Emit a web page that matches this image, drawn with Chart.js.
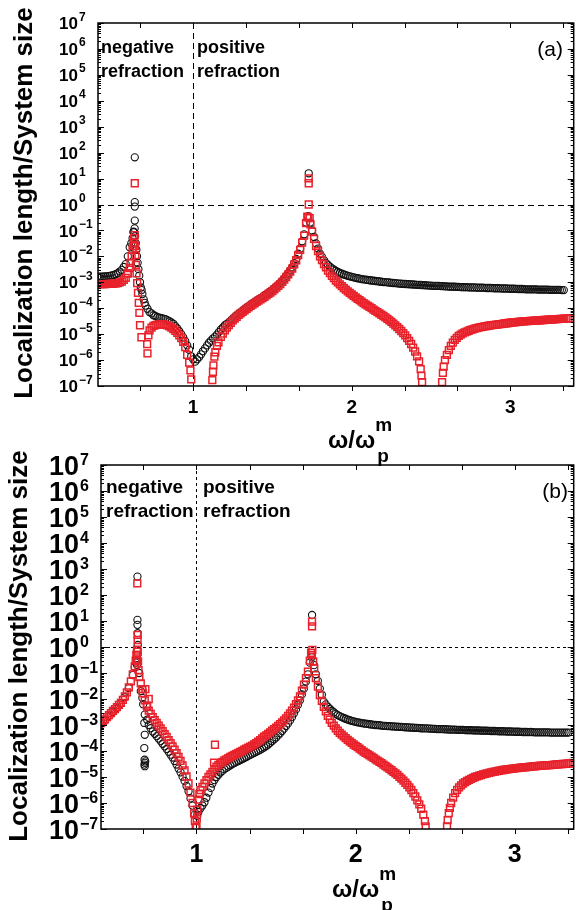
<!DOCTYPE html>
<html>
<head>
<meta charset="utf-8">
<script src="https://cdn.jsdelivr.net/npm/chart.js@4.4.1/dist/chart.umd.min.js"></script>
<style>
  html, body { margin: 0; padding: 0; background: #fff; }
  #wrap { position: relative; width: 580px; height: 910px; overflow: hidden; }
  canvas { position: absolute; left: 0; }
  #chartA { top: 0; }
  #chartB { top: 430px; }
</style>
</head>
<body>
<div id="wrap">
  <canvas id="chartA" width="580" height="475"></canvas>
  <canvas id="chartB" width="580" height="480"></canvas>
</div>
<script>
const FONT = "'Liberation Sans', Arial, Helvetica, sans-serif";
const RED = '#e8212b';

// tick labels
const xTickValues = [1, 2, 3];
const xTickLabels = ['1', '2', '3'];
const yExponents = [7, 6, 5, 4, 3, 2, 1, 0, -1, -2, -3, -4, -5, -6, -7];

// frequency grid (omega / omega_p^m), shared by both panels
const freqGrid = [
  0.400, 0.425, 0.450, 0.475, 0.500, 0.525, 0.550, 0.575,
  0.600, 0.625, 0.650, 0.675, 0.700, 0.725, 0.750, 0.775,
  0.800, 0.825, 0.850, 0.875, 0.900, 0.925, 0.950, 0.975,
  1.000, 1.025, 1.050, 1.075, 1.100, 1.125, 1.150, 1.175,
  1.200, 1.225, 1.250, 1.275, 1.300, 1.325, 1.350, 1.375,
  1.400, 1.425, 1.450, 1.475, 1.500, 1.525, 1.550, 1.575,
  1.600, 1.625, 1.650, 1.675, 1.700, 1.725, 1.750, 1.775,
  1.800, 1.825, 1.850, 1.875, 1.900, 1.925, 1.950, 1.975,
  2.000, 2.025, 2.050, 2.075, 2.100, 2.125, 2.150, 2.175,
  2.200, 2.225, 2.250, 2.275, 2.300, 2.325, 2.350, 2.375,
  2.400, 2.425, 2.450, 2.475, 2.500, 2.525, 2.550, 2.575,
  2.600, 2.625, 2.650, 2.675, 2.700, 2.725, 2.750, 2.775,
  2.800, 2.825, 2.850, 2.875, 2.900, 2.925, 2.950, 2.975,
  3.000, 3.025, 3.050, 3.075, 3.100, 3.125, 3.150, 3.175,
  3.200, 3.225, 3.250, 3.275, 3.300, 3.325, 3.350, 3.375,
  3.400
];
// in-between frequencies, the samples are denser than the main grid
const freqMid = [
  0.4125, 0.4375, 0.4625, 0.4875, 0.5125, 0.5375, 0.5625, 0.5875,
  0.6125, 0.6375, 0.6625, 0.6875, 0.7125, 0.7375, 0.7625, 0.7875,
  0.8125, 0.8375, 0.8625, 0.8875, 0.9125, 0.9375, 0.9625, 0.9875,
  1.0125, 1.0375, 1.0625, 1.0875, 1.1125, 1.1375, 1.1625, 1.1875,
  1.2125, 1.2375, 1.2625, 1.2875, 1.3125, 1.3375, 1.3625, 1.3875,
  1.4125, 1.4375, 1.4625, 1.4875, 1.5125, 1.5375, 1.5625, 1.5875,
  1.6125, 1.6375, 1.6625, 1.6875, 1.7125, 1.7375, 1.7625, 1.7875,
  1.8125, 1.8375, 1.8625, 1.8875, 1.9125, 1.9375, 1.9625, 1.9875,
  2.0125, 2.0375, 2.0625, 2.0875, 2.1125, 2.1375, 2.1625, 2.1875,
  2.2125, 2.2375, 2.2625, 2.2875, 2.3125, 2.3375, 2.3625, 2.3875,
  2.4125, 2.4375, 2.4625, 2.4875, 2.5125, 2.5375, 2.5625, 2.5875,
  2.6125, 2.6375, 2.6625, 2.6875, 2.7125, 2.7375, 2.7625, 2.7875,
  2.8125, 2.8375, 2.8625, 2.8875, 2.9125, 2.9375, 2.9625, 2.9875,
  3.0125, 3.0375, 3.0625, 3.0875, 3.1125, 3.1375, 3.1625, 3.1875,
  3.2125, 3.2375, 3.2625, 3.2875, 3.3125, 3.3375, 3.3625, 3.3875
];

// panel (a): black circles
const blackA = [
  1.66e-3, 1.66e-3, 1.70e-3, 1.78e-3, 1.91e-3, 2.24e-3, 3.02e-3, 5.01e-3,
  2.24e-2, 8.91e-2, 5.62e-3, 5.01e-4, 1.26e-4, 7.08e-5, 5.37e-5, 4.57e-5,
  4.17e-5, 3.80e-5, 3.16e-5, 2.51e-5, 1.66e-5, 1.00e-5, 5.37e-6, 2.51e-6,
  1.07e-6, 1.07e-6, 1.66e-6, 2.82e-6, 4.68e-6, 6.76e-6, 9.55e-6, 1.51e-5,
  2.24e-5, 2.82e-5, 3.98e-5, 5.37e-5, 7.08e-5, 9.33e-5, 1.20e-4, 1.55e-4,
  1.95e-4, 2.45e-4, 3.09e-4, 3.98e-4, 5.13e-4, 6.92e-4, 9.55e-4, 1.41e-3,
  2.24e-3, 3.80e-3, 7.94e-3, 2.00e-2, 7.08e-2, 0.355, 0.100, 3.16e-2,
  1.26e-2, 7.08e-3, 4.68e-3, 3.47e-3, 2.75e-3, 2.29e-3, 2.00e-3, 1.78e-3,
  1.62e-3, 1.48e-3, 1.38e-3, 1.29e-3, 1.23e-3, 1.17e-3, 1.12e-3, 1.07e-3,
  1.02e-3, 1.00e-3, 9.55e-4, 9.33e-4, 8.91e-4, 8.71e-4, 8.51e-4, 8.32e-4,
  8.13e-4, 7.94e-4, 7.76e-4, 7.59e-4, 7.41e-4, 7.24e-4, 7.24e-4, 7.08e-4,
  6.92e-4, 6.76e-4, 6.76e-4, 6.61e-4, 6.46e-4, 6.46e-4, 6.31e-4, 6.31e-4,
  6.17e-4, 6.17e-4, 6.03e-4, 6.03e-4, 5.89e-4, 5.89e-4, 5.75e-4, 5.75e-4,
  5.62e-4, 5.62e-4, 5.50e-4, 5.50e-4, 5.37e-4, 5.37e-4, 5.37e-4, 5.25e-4,
  5.25e-4, 5.25e-4, 5.13e-4, 5.13e-4, 5.13e-4, 5.01e-4, null, null,
  null
];
const blackMidA = [
  1.66e-3, 1.68e-3, 1.74e-3, 1.84e-3, 2.05e-3, 2.60e-3, 3.90e-3, null,
  null, null, null, null, null, null, null, 4.37e-5,
  3.98e-5, 3.47e-5, 2.82e-5, 2.04e-5, 1.30e-5, 7.40e-6, 3.70e-6, null,
  null, null, null, null, null, null, null, null,
  2.50e-5, 3.30e-5, 4.60e-5, 6.20e-5, 8.10e-5, 1.06e-4, 1.36e-4, 1.74e-4,
  2.19e-4, 2.75e-4, 3.50e-4, 4.50e-4, 5.90e-4, 8.10e-4, 1.15e-3, 1.78e-3,
  2.90e-3, 5.50e-3, 1.26e-2, 3.80e-2, null, null, 5.60e-2, 2.00e-2,
  9.50e-3, 5.60e-3, 4.00e-3, 3.10e-3, 2.50e-3, 2.14e-3, 1.90e-3, 1.70e-3,
  1.55e-3, 1.43e-3, 1.33e-3, 1.26e-3, 1.20e-3, 1.15e-3, 1.10e-3, 1.05e-3,
  1.01e-3, 9.80e-4, 9.40e-4, 9.10e-4, 8.80e-4, 8.60e-4, 8.40e-4, 8.20e-4,
  8.00e-4, 7.85e-4, 7.70e-4, 7.50e-4, 7.30e-4, 7.24e-4, 7.15e-4, 7.00e-4,
  6.85e-4, 6.76e-4, 6.70e-4, 6.55e-4, 6.46e-4, 6.40e-4, 6.31e-4, 6.25e-4,
  6.17e-4, 6.10e-4, 6.03e-4, 5.95e-4, 5.89e-4, 5.80e-4, 5.75e-4, 5.70e-4,
  5.62e-4, 5.55e-4, 5.50e-4, 5.45e-4, 5.37e-4, 5.37e-4, 5.30e-4, 5.25e-4,
  5.25e-4, 5.20e-4, 5.13e-4, 5.13e-4, 5.07e-4, 5.01e-4, null, null
];
const blackExtraA = [
  [0.588, 1.0e-2], [0.610, 3.2e-2], [0.618, 5.0e-2], [0.624, 8.5e-2], [0.631, 0.12], [0.632, 0.24],
  [0.632, 0.83], [0.632, 1.23], [0.632, 66],
  [0.634, 6.0e-2], [0.638, 3.2e-2], [0.642, 1.8e-2], [0.646, 1.0e-2], [0.655, 3.2e-3], [0.660, 1.8e-3],
  [0.665, 1.0e-3], [0.670, 6.3e-4], [0.680, 3.5e-4], [0.688, 2.2e-4], [0.694, 1.6e-4], [0.712, 9.5e-5],
  [0.738, 6.3e-5], [0.762, 5.0e-5],
  [0.988, 1.4e-6], [1.013, 8.7e-7], [1.038, 1.3e-6], [1.062, 2.2e-6], [1.088, 3.7e-6], [1.112, 5.6e-6],
  [1.138, 8.0e-6], [1.162, 1.2e-5], [1.188, 1.8e-5],
  [1.712, 0.2], [1.729, 16], [1.738, 0.2]
];

// panel (a): red squares
const redA = [
  8.51e-4, 8.51e-4, 8.51e-4, 8.71e-4, 8.91e-4, 9.33e-4, 1.07e-3, 1.48e-3,
  3.55e-3, 2.51e-2, null, null, null, 1.41e-5, 2.09e-5, 2.34e-5,
  2.40e-5, 2.29e-5, 2.00e-5, 1.58e-5, 1.12e-5, 7.08e-6, 3.16e-6, 7.94e-7,
  null, null, null, null, null, 3.55e-7, 3.55e-6, 7.94e-6,
  1.41e-5, 2.24e-5, 3.39e-5, 4.68e-5, 6.31e-5, 8.32e-5, 1.07e-4, 1.38e-4,
  1.74e-4, 2.19e-4, 2.75e-4, 3.55e-4, 4.57e-4, 6.17e-4, 8.51e-4, 1.26e-3,
  2.00e-3, 3.39e-3, 7.08e-3, 1.78e-2, 6.31e-2, 0.316, 8.91e-2, 2.51e-2,
  1.00e-2, 5.01e-3, 2.82e-3, 1.78e-3, 1.17e-3, 8.32e-4, 6.03e-4, 4.47e-4,
  3.39e-4, 2.63e-4, 2.04e-4, 1.58e-4, 1.26e-4, 1.00e-4, 7.94e-5, 6.31e-5,
  5.01e-5, 3.89e-5, 2.95e-5, 2.19e-5, 1.58e-5, 1.10e-5, 7.08e-6, 4.17e-6,
  2.14e-6, 8.91e-7, null, null, null, null, null, null,
  1.58e-6, 3.55e-6, 6.03e-6, 8.51e-6, 1.07e-5, 1.26e-5, 1.45e-5, 1.62e-5,
  1.78e-5, 1.91e-5, 2.04e-5, 2.19e-5, 2.29e-5, 2.40e-5, 2.51e-5, 2.63e-5,
  2.75e-5, 2.88e-5, 2.95e-5, 3.09e-5, 3.16e-5, 3.24e-5, 3.31e-5, 3.39e-5,
  3.47e-5, 3.55e-5, 3.63e-5, 3.72e-5, 3.80e-5, 3.89e-5, 3.98e-5, 4.07e-5,
  null
];
const redMidA = [
  8.51e-4, 8.51e-4, 8.61e-4, 8.81e-4, 9.12e-4, 9.90e-4, 1.23e-3, 2.20e-3,
  null, null, null, null, null, 1.78e-5, 2.24e-5, 2.40e-5,
  2.36e-5, 2.16e-5, 1.80e-5, 1.35e-5, 9.00e-6, 5.00e-6, null, null,
  null, null, null, null, null, null, null, 1.06e-5,
  1.78e-5, 2.75e-5, 3.98e-5, 5.50e-5, 7.24e-5, 9.50e-5, 1.23e-4, 1.55e-4,
  1.95e-4, 2.45e-4, 3.12e-4, 4.03e-4, 5.30e-4, 7.24e-4, 1.04e-3, 1.60e-3,
  2.60e-3, 4.90e-3, 1.12e-2, 3.40e-2, null, null, 4.70e-2, 1.60e-2,
  7.10e-3, 3.80e-3, 2.24e-3, 1.45e-3, 1.00e-3, 7.08e-4, 5.20e-4, 3.90e-4,
  3.00e-4, 2.30e-4, 1.80e-4, 1.41e-4, 1.12e-4, 8.90e-5, 7.08e-5, 5.60e-5,
  4.40e-5, 3.40e-5, 2.55e-5, 1.86e-5, 1.32e-5, 8.90e-6, 5.50e-6, 3.00e-6,
  null, null, null, null, null, null, null, null,
  2.40e-6, 4.70e-6, 7.20e-6, 9.60e-6, 1.17e-5, 1.35e-5, 1.53e-5, 1.70e-5,
  1.85e-5, 1.98e-5, 2.11e-5, 2.24e-5, 2.34e-5, 2.45e-5, 2.57e-5, 2.69e-5,
  2.82e-5, 2.91e-5, 3.02e-5, 3.12e-5, 3.20e-5, 3.27e-5, 3.35e-5, 3.43e-5,
  3.51e-5, 3.59e-5, 3.67e-5, 3.76e-5, 3.85e-5, 3.94e-5, 4.02e-5, null
];
const redExtraA = [
  [0.588, 2.2e-3], [0.605, 5.6e-3], [0.612, 1.0e-2], [0.618, 1.8e-2], [0.624, 3.2e-2], [0.628, 5.0e-2],
  [0.632, 6.6e-2], [0.632, 6.6],
  [0.634, 2.5e-2], [0.636, 1.12e-2], [0.639, 4.7e-3], [0.643, 2.2e-3], [0.647, 9.3e-4], [0.652, 3.9e-4],
  [0.657, 1.6e-4], [0.661, 6.6e-5], [0.665, 2.2e-5], [0.674, 7.6e-6], [0.710, 4.1e-6], [0.712, 1.8e-6],
  [0.718, 9.0e-6],
  [0.962, 1.6e-6], [0.983, 4.0e-7], [0.988, 1.8e-7],
  [1.121, 1.7e-7], [1.128, 6.3e-7], [1.134, 1.35e-6], [1.140, 2.0e-6], [1.160, 4.8e-6],
  [1.712, 0.19], [1.720, 0.34], [1.729, 1.0], [1.729, 6.6], [1.729, 10.2], [1.735, 0.3], [1.740, 0.17],
  [2.412, 1.4e-6], [2.435, 4.5e-7], [2.440, 2.5e-7], [2.444, 1.4e-7],
  [2.570, 1.4e-7], [2.575, 3.2e-7], [2.580, 5.6e-7], [2.588, 1.0e-6]
];

// panel (b): black circles
const blackB = [
  1.10e-3, 1.55e-3, 2.24e-3, 3.24e-3, 4.57e-3, 6.61e-3, 1.17e-2, 2.63e-2,
  8.32e-2, 0.316, 2.00e-2, 2.51e-3, 1.00e-3, 5.62e-4, 3.72e-4, 2.40e-4,
  1.51e-4, 9.33e-5, 5.62e-5, 3.02e-5, 1.51e-5, 7.08e-6, 2.82e-6, 7.94e-7,
  null, 6.31e-7, 1.07e-6, 2.51e-6, 5.62e-6, 1.00e-5, 1.48e-5, 2.00e-5,
  2.51e-5, 3.16e-5, 3.80e-5, 4.47e-5, 5.37e-5, 6.46e-5, 7.76e-5, 9.33e-5,
  1.12e-4, 1.38e-4, 1.78e-4, 2.40e-4, 3.31e-4, 4.79e-4, 7.24e-4, 1.15e-3,
  2.00e-3, 3.98e-3, 8.91e-3, 2.51e-2, 8.91e-2, 0.398, 8.91e-2, 2.51e-2,
  7.94e-3, 5.01e-3, 3.55e-3, 2.69e-3, 2.19e-3, 1.86e-3, 1.62e-3, 1.45e-3,
  1.32e-3, 1.23e-3, 1.15e-3, 1.10e-3, 1.05e-3, 1.00e-3, 9.77e-4, 9.33e-4,
  9.12e-4, 8.91e-4, 8.71e-4, 8.51e-4, 8.32e-4, 8.13e-4, 7.94e-4, 7.76e-4,
  7.59e-4, 7.41e-4, 7.41e-4, 7.24e-4, 7.08e-4, 6.92e-4, 6.92e-4, 6.76e-4,
  6.61e-4, 6.61e-4, 6.46e-4, 6.46e-4, 6.31e-4, 6.31e-4, 6.17e-4, 6.17e-4,
  6.03e-4, 6.03e-4, 5.89e-4, 5.89e-4, 5.75e-4, 5.75e-4, 5.62e-4, 5.62e-4,
  5.50e-4, 5.50e-4, 5.37e-4, 5.37e-4, 5.37e-4, 5.25e-4, 5.25e-4, 5.25e-4,
  5.25e-4, 5.13e-4, 5.13e-4, 5.13e-4, 5.13e-4, 5.13e-4, null, null,
  null
];
const blackMidB = [
  null, null, null, null, null, null, null, null,
  null, null, null, null, null, null, null, 1.90e-4,
  1.20e-4, 7.20e-5, 4.10e-5, 2.10e-5, 1.03e-5, 4.50e-6, 1.50e-6, null,
  null, null, null, null, 7.60e-6, 1.22e-5, 1.72e-5, 2.24e-5,
  2.82e-5, 3.47e-5, 4.10e-5, 4.90e-5, 5.90e-5, 7.10e-5, 8.50e-5, 1.02e-4,
  1.24e-4, 1.55e-4, 2.06e-4, 2.82e-4, 3.98e-4, 5.90e-4, 9.10e-4, 1.50e-3,
  2.80e-3, 6.00e-3, 1.50e-2, 4.70e-2, null, null, 5.00e-2, 1.45e-2,
  6.20e-3, 4.20e-3, 3.10e-3, 2.40e-3, 2.00e-3, 1.74e-3, 1.53e-3, 1.38e-3,
  1.27e-3, 1.19e-3, 1.12e-3, 1.07e-3, 1.02e-3, 9.90e-4, 9.50e-4, 9.20e-4,
  9.00e-4, 8.80e-4, 8.60e-4, 8.40e-4, 8.20e-4, 8.00e-4, 7.85e-4, 7.70e-4,
  7.50e-4, 7.41e-4, 7.30e-4, 7.15e-4, 7.00e-4, 6.92e-4, 6.85e-4, 6.70e-4,
  6.61e-4, 6.55e-4, 6.46e-4, 6.40e-4, 6.31e-4, 6.25e-4, 6.17e-4, 6.10e-4,
  6.03e-4, 5.95e-4, 5.89e-4, 5.80e-4, 5.75e-4, 5.70e-4, 5.62e-4, 5.55e-4,
  5.50e-4, 5.45e-4, 5.37e-4, 5.30e-4, 5.30e-4, 5.25e-4, 5.25e-4, 5.20e-4,
  5.20e-4, 5.13e-4, 5.13e-4, 5.13e-4, 5.13e-4, null, null, null
];
const blackExtraB = [
  [0.612, 0.17], [0.620, 0.25], [0.627, 0.2], [0.629, 0.5], [0.631, 1.2], [0.630, 3.4], [0.629, 7.1],
  [0.629, 11], [0.629, 510],
  [0.640, 0.1], [0.660, 1.1e-2], [0.665, 6.3e-3], [0.672, 1.2e-3], [0.675, 4.2e-4], [0.672, 1.3e-4],
  [0.674, 4.6e-5], [0.676, 3.5e-5], [0.675, 2.6e-5], [0.678, 4.0e-5], [0.673, 3.0e-5],
  [0.690, 1.6e-3], [0.712, 7.5e-4], [0.738, 4.6e-4], [0.762, 3.0e-4],
  [0.988, 3.5e-7], [1.005, 3.2e-7], [1.012, 4.5e-7], [1.037, 8.0e-7], [1.062, 1.6e-6], [1.090, 3.8e-6],
  [1.712, 0.25], [1.726, 17], [1.738, 0.2],
  [3.337, 5.13e-4]
];

// panel (b): red squares
const redB = [
  1.17e-3, 1.66e-3, 2.40e-3, 3.47e-3, 4.90e-3, 7.08e-3, 1.26e-2, 2.82e-2,
  8.91e-2, 0.316, 3.98e-2, 8.91e-3, 3.55e-3, 2.00e-3, 1.20e-3, 7.41e-4,
  4.47e-4, 2.63e-4, 1.51e-4, 8.32e-5, 4.17e-5, 1.78e-5, 5.62e-6, 1.00e-6,
  null, 3.16e-6, 5.62e-6, 1.00e-5, 1.58e-5, 2.51e-5, 3.39e-5, 4.37e-5,
  5.37e-5, 6.46e-5, 7.76e-5, 9.33e-5, 1.12e-4, 1.35e-4, 1.62e-4, 2.00e-4,
  2.63e-4, 3.55e-4, 4.57e-4, 6.03e-4, 7.94e-4, 1.07e-3, 1.51e-3, 2.24e-3,
  3.55e-3, 6.31e-3, 1.26e-2, 3.55e-2, 0.112, 0.501, 6.31e-2, 1.41e-2,
  5.01e-3, 2.24e-3, 1.20e-3, 7.41e-4, 5.01e-4, 3.63e-4, 2.69e-4, 2.04e-4,
  1.58e-4, 1.23e-4, 9.55e-5, 7.59e-5, 6.03e-5, 4.79e-5, 3.80e-5, 3.02e-5,
  2.34e-5, 1.82e-5, 1.38e-5, 1.02e-5, 7.24e-6, 5.01e-6, 3.16e-6, 1.78e-6,
  8.91e-7, 3.55e-7, null, null, null, null, null, null,
  1.00e-6, 2.40e-6, 3.98e-6, 5.62e-6, 7.08e-6, 8.51e-6, 1.00e-5, 1.12e-5,
  1.26e-5, 1.38e-5, 1.51e-5, 1.62e-5, 1.74e-5, 1.86e-5, 1.95e-5, 2.04e-5,
  2.14e-5, 2.24e-5, 2.34e-5, 2.40e-5, 2.51e-5, 2.57e-5, 2.69e-5, 2.75e-5,
  2.82e-5, 2.88e-5, 3.02e-5, 3.09e-5, 3.16e-5, 3.24e-5, 3.31e-5, null,
  null
];
const redMidB = [
  1.40e-3, 2.00e-3, 2.88e-3, 4.10e-3, 5.90e-3, 9.30e-3, 1.80e-2, 4.80e-2,
  null, null, 1.70e-2, 5.60e-3, 2.70e-3, 1.55e-3, 9.50e-4, 5.80e-4,
  3.45e-4, 2.00e-4, 1.12e-4, 5.90e-5, 2.80e-5, 1.05e-5, null, null,
  null, 4.20e-6, 7.60e-6, 1.26e-5, 2.00e-5, 2.95e-5, 3.85e-5, 4.80e-5,
  5.90e-5, 7.10e-5, 8.50e-5, 1.02e-4, 1.23e-4, 1.48e-4, 1.80e-4, 2.29e-4,
  3.05e-4, 4.00e-4, 5.25e-4, 6.90e-4, 9.20e-4, 1.26e-3, 1.80e-3, 2.80e-3,
  4.60e-3, 8.90e-3, 2.10e-2, 6.30e-2, null, null, 3.00e-2, 8.50e-3,
  3.35e-3, 1.62e-3, 9.50e-4, 6.00e-4, 4.30e-4, 3.10e-4, 2.34e-4, 1.78e-4,
  1.40e-4, 1.08e-4, 8.50e-5, 6.80e-5, 5.40e-5, 4.30e-5, 3.40e-5, 2.65e-5,
  2.06e-5, 1.58e-5, 1.20e-5, 8.70e-6, 6.00e-6, 4.00e-6, 2.40e-6, 1.26e-6,
  null, null, null, null, null, null, null, null,
  1.60e-6, 3.20e-6, 4.80e-6, 6.30e-6, 7.80e-6, 9.20e-6, 1.06e-5, 1.19e-5,
  1.32e-5, 1.45e-5, 1.57e-5, 1.68e-5, 1.80e-5, 1.90e-5, 2.00e-5, 2.09e-5,
  2.19e-5, 2.29e-5, 2.37e-5, 2.45e-5, 2.54e-5, 2.63e-5, 2.72e-5, 2.78e-5,
  2.85e-5, 2.95e-5, 3.05e-5, 3.12e-5, 3.20e-5, 3.27e-5, null, null
];
const redExtraB = [
  [0.612, 0.18], [0.618, 0.3], [0.622, 0.5], [0.626, 0.8], [0.630, 1.86], [0.630, 2.95], [0.628, 280],
  [0.631, 0.66], [0.633, 0.28], [0.636, 0.13], [0.641, 7.0e-2],
  [0.660, 2.4e-2], [0.679, 2.4e-2], [0.690, 5.1e-3], [0.700, 1.0e-2],
  [0.962, 2.5e-6], [0.985, 4.0e-7], [0.990, 2.0e-7], [0.995, 1.12e-7], [1.000, 1.2e-7], [1.002, 2.5e-7],
  [1.005, 5.5e-7], [1.012, 1.35e-6], [1.018, 2.2e-6],
  [1.110, 3.6e-5], [1.116, 1.74e-4],
  [1.712, 0.3], [1.720, 0.6], [1.726, 6.2], [1.726, 9.5], [1.728, 0.78], [1.733, 0.28], [1.740, 0.15],
  [2.412, 6.0e-7], [2.435, 2.0e-7], [2.440, 1.26e-7],
  [2.574, 1.26e-7], [2.578, 2.2e-7], [2.585, 4.1e-7], [2.592, 6.5e-7],
  [3.365, 3.47e-5]
];

function toPoints(xs, ys, xs2, ys2, extra) {
  const pts = [];
  xs.forEach((x, i) => {
    if (ys[i] !== null) pts.push({ x: x, y: ys[i] });
  });
  xs2.forEach((x, i) => {
    if (ys2[i] !== null) pts.push({ x: x, y: ys2[i] });
  });
  extra.forEach(p => pts.push({ x: p[0], y: p[1] }));
  return pts;
}

// frame, ticks, labels and notes drawn by hand (log labels need superscripts)
function panelDecor(o) {
  return {
    id: 'panelDecor',
    beforeDatasetsDraw(chart) {
      const { ctx, chartArea: a } = chart;
      const xs = chart.scales.x, ys = chart.scales.y;
      const y1 = Math.round(ys.getPixelForValue(1)) + 0.5;
      const x1 = Math.round(xs.getPixelForValue(1)) + 0.5;
      ctx.save();
      ctx.strokeStyle = '#000';
      ctx.lineWidth = 1;
      ctx.setLineDash(o.dash);
      ctx.beginPath();
      ctx.moveTo(a.left, y1); ctx.lineTo(a.right, y1);
      ctx.moveTo(x1, a.top); ctx.lineTo(x1, a.bottom);
      ctx.stroke();
      ctx.restore();
    },
    afterDraw(chart) {
      const { ctx, chartArea: a } = chart;
      const xs = chart.scales.x, ys = chart.scales.y;
      ctx.save();
      ctx.strokeStyle = '#000';
      ctx.setLineDash([]);

      // x ticks every 1/3
      ctx.lineWidth = 1;
      ctx.beginPath();
      for (let k = 2; k <= 10; k++) {
        const px = Math.round(xs.getPixelForValue(k / 3)) + 0.5;
        ctx.moveTo(px, a.top); ctx.lineTo(px, a.top + 5);
        ctx.moveTo(px, a.bottom); ctx.lineTo(px, a.bottom + 5);
      }
      // y ticks, decades plus 2..9 minors
      yExponents.forEach(e => {
        for (let m = 1; m <= 9; m++) {
          if (e === 7 && m > 1) continue;
          const py = Math.round(ys.getPixelForValue(m * Math.pow(10, e))) + 0.5;
          const len = m === 1 ? 6 : 3;
          ctx.moveTo(a.left, py); ctx.lineTo(a.left + len, py);
          ctx.moveTo(a.right, py); ctx.lineTo(a.right - len, py);
        }
      });
      ctx.stroke();

      ctx.lineWidth = 1.5;
      ctx.strokeRect(a.left, a.top, a.right - a.left, a.bottom - a.top);

      ctx.fillStyle = '#000';
      ctx.textBaseline = 'alphabetic';

      // y tick labels 10^n
      yExponents.forEach(e => {
        const py = ys.getPixelForValue(Math.pow(10, e));
        ctx.font = 'bold ' + o.tickSize + 'px ' + FONT;
        ctx.textAlign = 'right';
        ctx.fillText('10', o.tickRight, py + o.tickSize * 0.36);
        ctx.font = 'bold ' + o.expSize + 'px ' + FONT;
        ctx.textAlign = 'left';
        ctx.fillText(String(e).replace('-', '\u2212'), o.tickRight + 1, py + o.expShift);
      });

      // x tick labels
      ctx.font = 'bold ' + o.xTickSize + 'px ' + FONT;
      ctx.textAlign = 'center';
      xTickValues.forEach((v, i) => {
        ctx.fillText(xTickLabels[i], xs.getPixelForValue(v), o.xTickBase);
      });

      // x title  omega / omega_p^m
      ctx.textAlign = 'left';
      ctx.font = 'bold ' + o.xTitleSize + 'px ' + FONT;
      ctx.fillText('\u03c9/\u03c9', o.xTitleLeft, o.xTitleBase);
      const w = ctx.measureText('\u03c9/\u03c9').width;
      ctx.font = 'bold ' + o.xSupSize + 'px ' + FONT;
      ctx.fillText('m', o.xTitleLeft + w, o.xTitleBase - 17);
      ctx.fillText('p', o.xTitleLeft + w + 2, o.xTitleBase + 14);

      // y title
      ctx.save();
      ctx.translate(o.yTitleX, o.yTitleY);
      ctx.rotate(-Math.PI / 2);
      ctx.textAlign = 'center';
      ctx.font = 'bold ' + o.yTitleSize + 'px ' + FONT;
      ctx.fillText('Localization length/System size', 0, 0);
      ctx.restore();

      // region notes
      ctx.textAlign = 'left';
      ctx.font = 'bold ' + o.noteSize + 'px ' + FONT;
      ctx.fillText('negative', o.negX, o.noteBase);
      ctx.fillText('refraction', o.negX, o.noteBase + 24);
      ctx.fillText('positive', o.posX, o.noteBase);
      ctx.fillText('refraction', o.posX, o.noteBase + 24);

      // panel tag
      ctx.textAlign = 'right';
      ctx.font = '21px ' + FONT;
      ctx.fillText(o.tag, o.tagRight, o.tagBase);
      ctx.restore();
    }
  };
}

function makePanel(canvasId, black, blackMid, blackExtra, red, redMid, redExtra, xMax, pad, o) {
  const ctx = document.getElementById(canvasId).getContext('2d');
  return new Chart(ctx, {
    type: 'scatter',
    data: {
      datasets: [
        {
          label: 'red',
          data: toPoints(freqGrid, red, freqMid, redMid, redExtra),
          pointStyle: 'rect',
          pointRadius: 4.8,
          pointBorderWidth: 1.5,
          pointBorderColor: RED,
          pointBackgroundColor: 'rgba(255,255,255,0)'
        },
        {
          label: 'black',
          data: toPoints(freqGrid, black, freqMid, blackMid, blackExtra),
          pointStyle: 'circle',
          pointRadius: 3.6,
          pointBorderWidth: 1.1,
          pointBorderColor: '#111',
          pointBackgroundColor: 'rgba(255,255,255,0)'
        }
      ]
    },
    options: {
      responsive: false,
      animation: false,
      events: [],
      layout: { padding: pad },
      plugins: { legend: { display: false }, tooltip: { enabled: false } },
      scales: {
        x: { type: 'linear', min: 0.4, max: xMax, display: false },
        y: { type: 'logarithmic', min: 1e-7, max: 1e7, display: false }
      }
    },
    plugins: [panelDecor(o)]
  });
}

makePanel('chartA', blackA, blackMidA, blackExtraA, redA, redMidA, redExtraA, 3.4,
  { left: 98, right: 4, top: 23, bottom: 89 },
  {
    dash: [6, 4], tickSize: 17, expSize: 12, tickRight: 78, expShift: -2.5,
    xTickSize: 19, xTickBase: 413,
    xTitleSize: 24, xSupSize: 19, xTitleLeft: 328, xTitleBase: 448,
    yTitleX: 32, yTitleY: 203, yTitleSize: 26,
    noteSize: 18, negX: 101, posX: 197, noteBase: 53,
    tag: '(a)', tagRight: 563, tagBase: 56
  });

makePanel('chartB', blackB, blackMidB, blackExtraB, redB, redMidB, redExtraB, 3.37,
  { left: 101, right: 2, top: 35, bottom: 81 },
  {
    dash: [3, 3], tickSize: 27, expSize: 16, tickRight: 79, expShift: 0,
    xTickSize: 25, xTickBase: 432,
    xTitleSize: 24, xSupSize: 19, xTitleLeft: 332, xTitleBase: 467,
    yTitleX: 27, yTitleY: 216, yTitleSize: 26,
    noteSize: 19, negX: 106, posX: 203, noteBase: 63,
    tag: '(b)', tagRight: 568, tagBase: 68
  });
</script>
</body>
</html>
